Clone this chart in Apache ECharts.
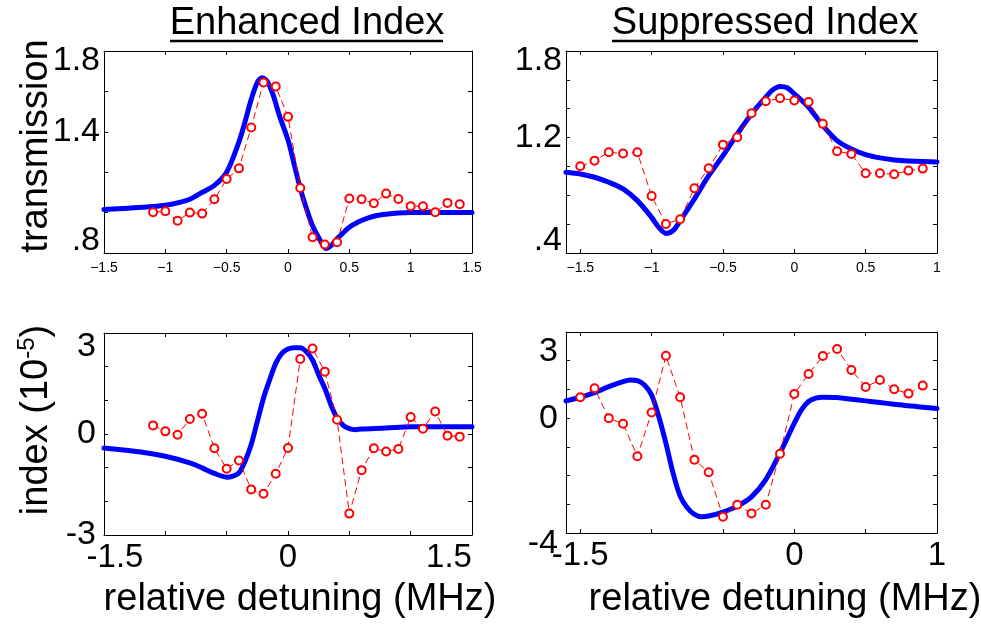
<!DOCTYPE html>
<html><head><meta charset="utf-8">
<script src="https://cdn.jsdelivr.net/npm/echarts@6/dist/echarts.min.js"></script>
<style>html,body{margin:0;padding:0;background:#fff}#c{width:981px;height:624px}</style>
</head><body><div id="c"></div>
<script>
const FONT = '"Liberation Sans", Arial, Helvetica, sans-serif';

// ---------- Enhanced Index : transmission ----------
const tlRedX = [-1.1,-1.0,-0.9,-0.8,-0.7,-0.6,-0.5,-0.4,-0.3,-0.2,-0.1,0.0,0.1,0.2,0.3,0.4,0.5,0.6,0.7,0.8,0.9,1.0,1.1,1.2,1.3,1.4];
const tlRedY = [1.002,1.007,0.960,1.000,0.995,1.066,1.166,1.219,1.421,1.644,1.624,1.474,1.122,0.878,0.842,0.853,1.070,1.066,1.046,1.094,1.067,1.031,1.031,1.002,1.048,1.041];
const tlBlueX = [-1.5,-1.3,-1.1,-1.0,-0.9,-0.8,-0.7,-0.6,-0.5,-0.4,-0.35,-0.3,-0.25,-0.21,-0.17,-0.12,-0.07,0.0,0.05,0.1,0.15,0.2,0.25,0.31,0.36,0.4,0.5,0.6,0.7,0.8,0.9,1.0,1.5];
const tlBlueY = [1.015,1.022,1.030,1.036,1.048,1.066,1.100,1.135,1.200,1.350,1.450,1.560,1.645,1.668,1.650,1.580,1.480,1.360,1.240,1.120,1.020,0.935,0.877,0.822,0.842,0.870,0.928,0.961,0.982,0.992,0.998,1.000,1.000];

// ---------- Suppressed Index : transmission ----------
const trRedX = [-1.5,-1.4,-1.3,-1.2,-1.1,-1.0,-0.9,-0.8,-0.7,-0.6,-0.5,-0.4,-0.3,-0.2,-0.1,0.0,0.1,0.2,0.3,0.4,0.5,0.6,0.7,0.8,0.9];
const trRedY = [1.001,1.040,1.098,1.089,1.098,0.795,0.601,0.634,0.849,0.987,1.151,1.202,1.369,1.452,1.473,1.457,1.447,1.295,1.105,1.087,0.953,0.953,0.946,0.971,0.985];
const trBlueX = [-1.6,-1.5,-1.4,-1.3,-1.2,-1.1,-1.0,-0.95,-0.9,-0.85,-0.8,-0.7,-0.6,-0.5,-0.4,-0.3,-0.2,-0.15,-0.1,-0.05,0.0,0.1,0.2,0.3,0.4,0.5,0.6,0.7,0.8,1.0];
const trBlueY = [0.960,0.948,0.925,0.890,0.844,0.763,0.647,0.578,0.536,0.555,0.624,0.775,0.936,1.075,1.225,1.364,1.480,1.531,1.554,1.545,1.503,1.410,1.283,1.179,1.121,1.082,1.059,1.045,1.038,1.031];

// ---------- Enhanced Index : index (1e-5) ----------
const blRedX = [-1.1,-1.0,-0.9,-0.8,-0.7,-0.6,-0.5,-0.4,-0.3,-0.2,-0.1,0.0,0.1,0.2,0.3,0.4,0.5,0.6,0.7,0.8,0.9,1.0,1.1,1.2,1.3,1.4];
const blRedY = [0.256,0.079,-0.020,0.443,0.601,-0.424,-1.034,-0.788,-1.645,-1.773,-1.182,-0.414,2.227,2.542,1.852,0.424,-2.365,-1.074,-0.424,-0.522,-0.443,0.502,0.158,0.670,-0.049,-0.079];
const blBlueX = [-1.5,-1.2,-1.0,-0.8,-0.7,-0.6,-0.5,-0.45,-0.4,-0.35,-0.3,-0.25,-0.2,-0.15,-0.1,-0.05,0.0,0.05,0.1,0.15,0.2,0.25,0.3,0.35,0.4,0.45,0.5,0.55,0.6,0.8,1.0,1.5];
const blBlueY = [-0.414,-0.532,-0.660,-0.857,-1.005,-1.172,-1.281,-1.250,-1.153,-0.808,-0.315,0.374,1.064,1.606,2.099,2.394,2.522,2.562,2.562,2.443,2.197,1.754,1.360,0.867,0.473,0.256,0.158,0.128,0.148,0.177,0.217,0.217];

// ---------- Suppressed Index : index (1e-5) ----------
const brRedX = [-1.5,-1.4,-1.3,-1.2,-1.1,-1.0,-0.9,-0.8,-0.7,-0.6,-0.5,-0.4,-0.3,-0.2,-0.1,0.0,0.1,0.2,0.3,0.4,0.5,0.6,0.7,0.8,0.9];
const brRedY = [0.728,1.040,0.000,-0.197,-1.329,0.197,2.173,0.728,-1.445,-1.884,-3.434,-3.017,-3.318,-3.017,-1.237,0.844,1.538,2.162,2.405,1.676,1.087,1.329,1.006,0.855,1.133];
const brBlueX = [-1.6,-1.5,-1.4,-1.3,-1.2,-1.15,-1.1,-1.05,-1.0,-0.95,-0.9,-0.85,-0.8,-0.75,-0.7,-0.65,-0.6,-0.5,-0.4,-0.3,-0.2,-0.1,0.0,0.05,0.1,0.15,0.2,0.3,0.4,0.5,0.6,0.7,0.8,0.9,1.0];
const brBlueY = [0.601,0.728,0.890,1.098,1.272,1.330,1.306,1.156,0.809,0.058,-0.867,-1.908,-2.717,-3.121,-3.353,-3.434,-3.410,-3.272,-3.064,-2.740,-2.139,-1.214,-0.173,0.289,0.578,0.694,0.728,0.717,0.659,0.601,0.543,0.486,0.428,0.382,0.335];

// tick labels
const tlYLabels = ['1.8','1.4','.8'];
const trYLabels = ['1.8','1.2','.4'];
const blYLabels = ['3','0','-3'];
const brYLabels = ['3','0','-4'];
const topXTicksTR = [-1.5,-1,-0.5,0,0.5,1];
const botXLabelsBL = ['-1.5','0','1.5'];
const botXLabelsBR = ['-1.5','0','1'];

const zip = (xs, ys) => xs.map((x, i) => [x, ys[i]]);
const near = (a, b) => Math.abs(a - b) < 1e-6;
const minus = v => (v < 0 ? '\u2212' : '') + String(Math.abs(Math.round(v * 10) / 10));

const grids = [
  {left:104, top:51, width:368, height:202},
  {left:566, top:51, width:371, height:202},
  {left:104, top:333, width:368, height:202},
  {left:566, top:332, width:371, height:201}
];

const lineStyleAx = {color:'#000', width:1};
const tickIn = {show:true, inside:true, length:4, lineStyle:{color:'#000', width:1}};

function richBig(size) {
  return {
    n:{fontSize:size, fontFamily:FONT, color:'#000'},
    dn:{fontSize:size, fontFamily:FONT, color:'#000', padding:[20,0,0,0]},
    dn2:{fontSize:size, fontFamily:FONT, color:'#000', padding:[28,0,0,0]},
    dn3:{fontSize:size, fontFamily:FONT, color:'#000', padding:[40,0,0,0]},
    dn4:{fontSize:size, fontFamily:FONT, color:'#000', padding:[22,0,0,0]},
    up:{fontSize:size, fontFamily:FONT, color:'#000', padding:[0,0,24,0]},
    r:{fontSize:size, fontFamily:FONT, color:'#000', padding:[0,0,0,22]},
    l:{fontSize:size, fontFamily:FONT, color:'#000', padding:[0,46,0,0]}
  };
}

const xAxes = [], yAxes = [];
function addX(gi, min, max, interval, label, custom) {
  const base = {type:'value', gridIndex:gi, min, max, splitLine:{show:false},
    axisLine:{show:true, onZero:false, lineStyle:lineStyleAx}};
  const bottom = Object.assign({}, base, {position:'bottom', axisTick:Object.assign({}, tickIn), axisLabel:label});
  if (interval) bottom.interval = interval;
  if (custom) { bottom.axisTick.customValues = custom; bottom.axisLabel.customValues = custom; }
  const top = Object.assign({}, base, {position:'top', axisTick:Object.assign({}, tickIn), axisLabel:{show:false}});
  if (interval) top.interval = interval;
  if (custom) top.axisTick.customValues = custom;
  xAxes.push(bottom); const idx = xAxes.length - 1; xAxes.push(top);
  return idx;
}
function addY(gi, min, max, interval, label) {
  const base = {type:'value', gridIndex:gi, min, max, interval, splitLine:{show:false},
    axisLine:{show:true, onZero:false, lineStyle:lineStyleAx}, axisTick:tickIn};
  yAxes.push(Object.assign({}, base, {position:'left', axisLabel:label}));
  const idx = yAxes.length - 1;
  yAxes.push(Object.assign({}, base, {position:'right', axisLabel:{show:false}}));
  return idx;
}

const smallX = {show:true, fontSize:14, fontFamily:FONT, color:'#000', margin:8, formatter:minus};

// Panel 0 (TL)
const x0 = addX(0, -1.5, 1.5, 0.5, Object.assign({}, smallX));
const y0 = addY(0, 0.8, 1.8, 0.2, {show:true, margin:4, rich:richBig(34), formatter: v =>
  near(v,1.8) ? '{dn|'+tlYLabels[0]+'}' : near(v,1.4) ? '{n|'+tlYLabels[1]+'}' : near(v,0.8) ? '{up|'+tlYLabels[2]+'}' : ''});
// Panel 1 (TR)
const x1 = addX(1, -1.6, 1, null, Object.assign({}, smallX), topXTicksTR);
const y1 = addY(1, 0.4, 1.8, 0.2, {show:true, margin:4, rich:richBig(34), formatter: v =>
  near(v,1.8) ? '{dn|'+trYLabels[0]+'}' : near(v,1.2) ? '{n|'+trYLabels[1]+'}' : near(v,0.4) ? '{up|'+trYLabels[2]+'}' : ''});
// Panel 2 (BL)
const x2 = addX(2, -1.5, 1.5, 0.5, {show:true, margin:6, rich:richBig(33), formatter: v =>
  near(v,-1.5) ? '{r|'+botXLabelsBL[0]+'}' : near(v,0) ? '{n|'+botXLabelsBL[1]+'}' : near(v,1.5) ? '{l|'+botXLabelsBL[2]+'}' : ''});
const y2 = addY(2, -3, 3, 1, {show:true, margin:8, rich:richBig(34), formatter: v =>
  near(v,3) ? '{dn2|'+blYLabels[0]+'}' : near(v,0) ? '{n|'+blYLabels[1]+'}' : near(v,-3) ? '{n|'+blYLabels[2]+'}' : ''});
// Panel 3 (BR)
const x3 = addX(3, -1.6, 1, null, {show:true, margin:6, rich:richBig(33), formatter: v =>
  near(v,-1.5) ? '{n|'+botXLabelsBR[0]+'}' : near(v,0) ? '{n|'+botXLabelsBR[1]+'}' : near(v,1) ? '{n|'+botXLabelsBR[2]+'}' : ''}, topXTicksTR);
xAxes[x3].axisLabel.customValues = [-1.5, 0, 1];
const y3 = addY(3, -4, 3, 1, {show:true, margin:8, rich:richBig(34), formatter: v =>
  near(v,3) ? '{dn3|'+brYLabels[0]+'}' : near(v,0) ? '{n|'+brYLabels[1]+'}' : near(v,-4) ? '{dn4|'+brYLabels[2]+'}' : ''});

function blue(xi, yi, xs, ys) {
  return {type:'line', xAxisIndex:xi, yAxisIndex:yi, data:zip(xs, ys), showSymbol:false, symbol:'none',
    smooth:0.3, lineStyle:{color:'#0000ff', width:5, join:'round', cap:'round'}, z:2, silent:true};
}
function red(xi, yi, xs, ys) {
  return {type:'line', xAxisIndex:xi, yAxisIndex:yi, data:zip(xs, ys), symbol:'emptyCircle', symbolSize:8,
    itemStyle:{color:'#ff0000', borderColor:'#ff0000', borderWidth:1},
    lineStyle:{color:'#ff0000', width:1, type:[7,4]}, z:3, silent:true};
}

const series = [
  blue(x0, y0, tlBlueX, tlBlueY), red(x0, y0, tlRedX, tlRedY),
  blue(x1, y1, trBlueX, trBlueY), red(x1, y1, trRedX, trRedY),
  blue(x2, y2, blBlueX, blBlueY), red(x2, y2, blRedX, blRedY),
  blue(x3, y3, brBlueX, brBlueY), red(x3, y3, brRedX, brRedY)
];

const bigFont = '38px ' + FONT;
const graphic = [
  {type:'text', x:307, y:24, style:{text:'Enhanced Index', font:bigFont, fill:'#000', textAlign:'center', textVerticalAlign:'middle'}},
  {type:'line', shape:{x1:170, y1:41, x2:443, y2:41}, style:{stroke:'#000', lineWidth:2.5}},
  {type:'text', x:765, y:24, style:{text:'Suppressed Index', font:bigFont, fill:'#000', textAlign:'center', textVerticalAlign:'middle'}},
  {type:'line', shape:{x1:612, y1:41, x2:918, y2:41}, style:{stroke:'#000', lineWidth:2.5}},
  {type:'text', x:37, y:146, rotation:Math.PI/2, style:{text:'transmission', font:bigFont, fill:'#000', textAlign:'center', textVerticalAlign:'middle'}},
  {type:'text', x:37, y:420, rotation:Math.PI/2, style:{text:'{n|index (10}{s|-5}{n|)}', fill:'#000', textAlign:'center', textVerticalAlign:'middle',
    rich:{n:{fontSize:38, fontFamily:FONT, lineHeight:44}, s:{fontSize:24, fontFamily:FONT, verticalAlign:'top', lineHeight:44, padding:[0,0,14,0]}}}},
  {type:'text', x:300, y:600, style:{text:'relative detuning (MHz)', font:bigFont, fill:'#000', textAlign:'center', textVerticalAlign:'middle'}},
  {type:'text', x:785, y:600, style:{text:'relative detuning (MHz)', font:bigFont, fill:'#000', textAlign:'center', textVerticalAlign:'middle'}}
];

const chart = echarts.init(document.getElementById('c'), null, {renderer:'canvas'});
chart.setOption({animation:false, backgroundColor:'#fff', grid:grids, xAxis:xAxes, yAxis:yAxes, series, graphic});
</script></body></html>
